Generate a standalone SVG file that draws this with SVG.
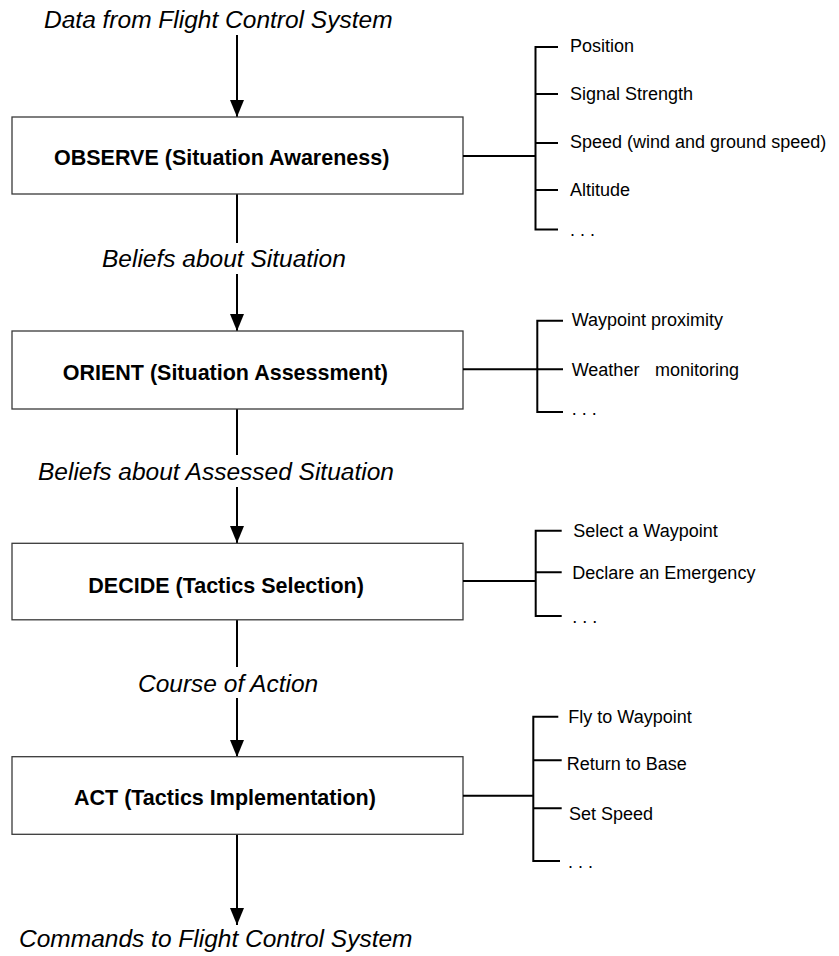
<svg xmlns="http://www.w3.org/2000/svg" width="839" height="956" viewBox="0 0 839 956">
  <style>
    .box { fill: #ffffff; stroke: #3a3a3a; stroke-width: 1.3; }
    .title { font-family: "Liberation Sans", Arial, sans-serif; font-weight: bold; font-size: 21.5px; fill: #000; }
    .flow { font-family: "Liberation Sans", Arial, sans-serif; font-style: italic; font-size: 24.5px; fill: #000; }
    .item { font-family: "Liberation Sans", Arial, sans-serif; font-size: 18px; fill: #000; }
    .wire { fill: none; stroke: #000; stroke-width: 2; }
    .arrow { fill: none; stroke: #000; stroke-width: 2; marker-end: url(#head); }
  </style>
  <defs>
    <marker id="head" markerUnits="userSpaceOnUse" markerWidth="17" markerHeight="14" refX="17" refY="7" orient="auto">
      <path d="M0,0 L17,7 L0,14 z" fill="#000"/>
    </marker>
  </defs>

  <!-- flow labels between stages -->
  <g id="labels">
    <text class="flow" x="44" y="28">Data from Flight Control System</text>
    <text class="flow" x="102" y="267">Beliefs about Situation</text>
    <text class="flow" x="38" y="480">Beliefs about Assessed Situation</text>
    <text class="flow" x="138" y="692">Course of Action</text>
    <text class="flow" x="19" y="947">Commands to Flight Control System</text>
  </g>

  <!-- main vertical flow -->
  <g id="connectors">
    <line class="arrow" x1="237" y1="35" x2="237" y2="117"/>
    <line class="wire" x1="237" y1="194" x2="237" y2="243"/>
    <line class="arrow" x1="237" y1="274" x2="237" y2="331"/>
    <line class="wire" x1="237" y1="409" x2="237" y2="455"/>
    <line class="arrow" x1="237" y1="487" x2="237" y2="543"/>
    <line class="wire" x1="237" y1="620" x2="237" y2="667"/>
    <line class="arrow" x1="237" y1="698" x2="237" y2="757"/>
    <line class="arrow" x1="237" y1="834" x2="237" y2="925"/>
  </g>

  <!-- OBSERVE -->
  <g id="observe">
    <rect class="box" x="12" y="117" width="451" height="77"/>
    <text class="title" x="54" y="165">OBSERVE (Situation Awareness)</text>
    <path class="wire" d="M463,156 H535.5 M535.5,47 V229.5 M534.5,47 H558 M535.5,94 H558 M535.5,143 H558 M535.5,190 H558 M534.5,229.5 H558"/>
    <text class="item" x="570" y="52">Position</text>
    <text class="item" x="570" y="100">Signal Strength</text>
    <text class="item" x="570" y="148">Speed (wind and ground speed)</text>
    <text class="item" x="570" y="196">Altitude</text>
    <text class="item" x="570" y="236">. . .</text>
  </g>

  <!-- ORIENT -->
  <g id="orient">
    <rect class="box" x="12" y="331" width="451" height="78"/>
    <text class="title" x="62.7" y="380">ORIENT (Situation Assessment)</text>
    <path class="wire" d="M463,369.3 H537.3 M537.3,320.7 V412 M536.3,320.7 H563 M537.3,369.3 H563 M536.3,412 H563"/>
    <text class="item" x="571.7" y="326">Waypoint proximity</text>
    <text class="item" x="571.7" y="376">Weather<tspan x="655">monitoring</tspan></text>
    <text class="item" x="571.7" y="415">. . .</text>
  </g>

  <!-- DECIDE -->
  <g id="decide">
    <rect class="box" x="12" y="543.3" width="451" height="76.5"/>
    <text class="title" x="88.3" y="593.3">DECIDE (Tactics Selection)</text>
    <path class="wire" d="M463,581 H535.7 M535.7,530.7 V616 M534.7,530.7 H561.7 M535.7,572.3 H561.7 M534.7,616 H561.7"/>
    <text class="item" x="573.3" y="537.3">Select a Waypoint</text>
    <text class="item" x="572.3" y="579.3">Declare an Emergency</text>
    <text class="item" x="572.3" y="623.3">. . .</text>
  </g>

  <!-- ACT -->
  <g id="act">
    <rect class="box" x="12" y="756.7" width="451" height="77.6"/>
    <text class="title" x="74" y="805">ACT (Tactics Implementation)</text>
    <path class="wire" d="M463,795.7 H533.3 M533.3,716.7 V861 M532.3,716.7 H558.3 M533.3,760.3 H561.7 M533.3,808.3 H561.7 M532.3,861 H560"/>
    <text class="item" x="568.3" y="723.3">Fly to Waypoint</text>
    <text class="item" x="566.7" y="770">Return to Base</text>
    <text class="item" x="569" y="820">Set Speed</text>
    <text class="item" x="568" y="868.3">. . .</text>
  </g>
</svg>
